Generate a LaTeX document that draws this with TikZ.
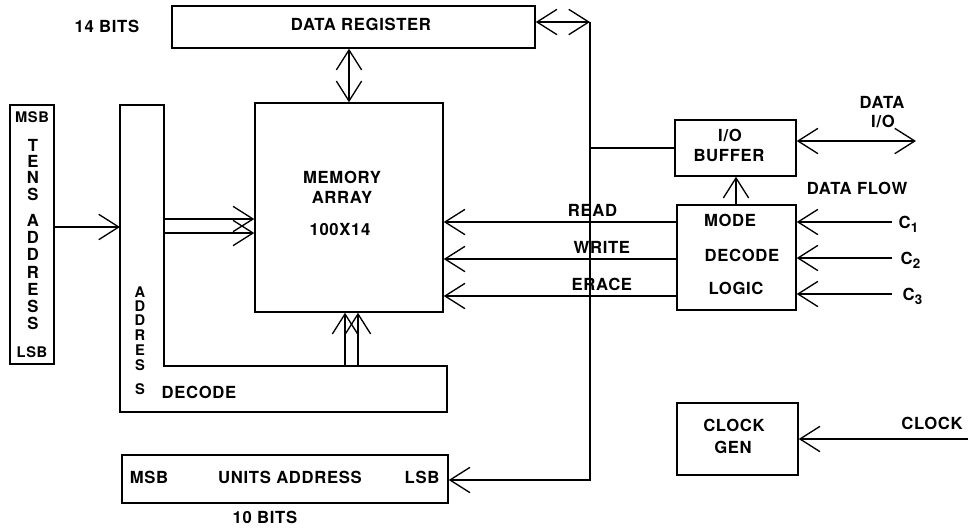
\documentclass[tikz,border=0pt]{standalone}
\usepackage{fontspec}
\setmainfont{TeX Gyre Heros}[LetterSpace=4]
\usetikzlibrary{arrows.meta}

\tikzset{every picture/.style={line width=1.1pt}}
\tikzset{
  blk/.style n args={2}{draw, inner sep=0pt, minimum width=#1*0.75pt, minimum height=#2*0.75pt},
  lbl/.style={inner sep=0.75pt, font=\bfseries\fontsize{12.5}{13}\selectfont},
  sml/.style={inner sep=0.5pt, font=\bfseries\fontsize{11}{12}\selectfont},
  sig/.style={-{Straight Barb[length=15pt,width=19pt,line width=1pt]}},
  bisig/.style={{Straight Barb[length=15pt,width=19pt,line width=1pt]}-{Straight Barb[length=15pt,width=19pt,line width=1pt]}}
}

\begin{document}
\begin{tikzpicture}[x=0.75pt,y=0.75pt,yscale=-1,xscale=1]
\useasboundingbox (0,0) rectangle (968,529);

%Blocks
\node [blk={363}{42}] (dreg) at (353.5,27) {};
\node [blk={188}{209}] (mem) at (349,207.5) {};
\node [blk={44}{259}] (tens) at (32,234.5) {};
\node [blk={326}{48}] (units) at (285,479) {};
\node [blk={121}{56}] (buf) at (735.5,148) {};
\node [blk={119}{105}] (mode) at (736.5,257.5) {};
\node [blk={121}{72}] (clk) at (737.5,439) {};

%Shape: address decode (L)
\draw (120,105) -- (164,105) -- (164,366) -- (447,366) -- (447,412) -- (120,412) -- cycle ;
\coordinate (decin) at (120,227);
\coordinate (decout) at (164,226);
\coordinate (decup) at (351.5,366);

%Bus
\coordinate (busT) at (590,22);
\coordinate (busB) at (590,480);
\draw [bisig] (dreg.east |- busT) -- (busT);
\draw [sig] (busT) -- (busB) -- (units.east |- busB);
\draw (busT |- buf.west) -- (buf.west);

%Straight Lines
\draw [bisig] (dreg.south -| mem.north) -- (mem.north);
\draw [sig] (tens.east |- decin) -- (decin);
\draw [sig] ([yshift=-7*0.75pt]decout) -- ([yshift=-7*0.75pt]decout -| mem.west);
\draw [sig] ([yshift=7*0.75pt]decout) -- ([yshift=7*0.75pt]decout -| mem.west);
\draw [sig] ([xshift=-6.5*0.75pt]decup) -- ([xshift=-6.5*0.75pt]decup |- mem.south);
\draw [sig] ([xshift=6.5*0.75pt]decup) -- ([xshift=6.5*0.75pt]decup |- mem.south);
\draw [sig] (mode.north -| 736,0) -- (buf.south -| 736,0);
\draw [bisig] (buf.east |- 0,141) -- (916,141);

%Control lines
\draw [sig] (mode.west |- 0,222) -- (mem.east |- 0,222) node (rd) [lbl, pos=0.36, above=3pt] {READ};
\draw [sig] (mode.west |- 0,259) -- (mem.east |- 0,259) node (wr) [lbl, pos=0.32, above=3pt] {WRITE};
\draw [sig] (mode.west |- 0,296) -- (mem.east |- 0,296) node (er) [lbl, pos=0.32, above=3pt] {ERACE};
\coordinate (c1) at (892,222);
\coordinate (c2) at (892,258);
\coordinate (c3) at (892,294);
\coordinate (cin) at (968,439);
\draw [sig] (c1) -- (c1 -| mode.east);
\draw [sig] (c2) -- (c2 -| mode.east);
\draw [sig] (c3) -- (c3 -| mode.east);
\draw [sig] (cin) -- (cin -| clk.east);

% Text Node
\node [lbl] (bits14) at (107,26) {14 BITS};
\node [lbl] (dregt) at (361,24) {DATA REGISTER};
\node [lbl] (memt1) at (342,177) {MEMORY};
\node [lbl] (memt2) at (342,197) {ARRAY};
\node [lbl] (memt3) at (340,229) {100X14};
\node [lbl] (dect) at (199,392) {DECODE};
\node [lbl] (umsb) at (149,477) {MSB};
\node [lbl] (unitt) at (290,477) {UNITS ADDRESS};
\node [lbl] (ulsb) at (422,477) {LSB};
\node [lbl] (bits10) at (265,517) {10 BITS};
\node [lbl] (buft1) at (730,135) {I/O};
\node [lbl] (buft2) at (729,156) {BUFFER};
\node [lbl] (dio1) at (882,102) {DATA};
\node [lbl] (dio2) at (883,121) {I/O};
\node [lbl] (dflow) at (857,188) {DATA FLOW};
\node [lbl] (modet1) at (730,220) {MODE};
\node [lbl] (modet2) at (742,255) {DECODE};
\node [lbl] (modet3) at (736,288) {LOGIC};
\node [lbl] (clkt1) at (734,425) {CLOCK};
\node [lbl] (clkt2) at (733,447) {GEN};
\node [lbl] (clkin) at (932,423) {CLOCK};
\node [lbl, anchor=west] (c1t) at (897,224) {C\raisebox{-3pt}{\fontsize{10}{10}\selectfont 1}};
\node [lbl, anchor=west] (c2t) at (899,260) {C\raisebox{-3pt}{\fontsize{10}{10}\selectfont 2}};
\node [lbl, anchor=west] (c3t) at (901,296) {C\raisebox{-3pt}{\fontsize{10}{10}\selectfont 3}};
\node [sml] (tmsb) at (32,117) {MSB};
\node [sml] (tlsb) at (32,352) {LSB};
\foreach \ch/\yy in {T/145,E/161,N/177,S/194,A/220,D/237,D/254,R/272,E/289,S/306,S/323}
  \node [lbl] (tl-\yy) at (33,\yy) {\ch};
\foreach \ch/\yy in {A/292,D/306,D/320,R/335,E/350,S/365,S/389}
  \node [sml] (al-\yy) at (140,\yy) {\ch};

\end{tikzpicture}
\end{document}
